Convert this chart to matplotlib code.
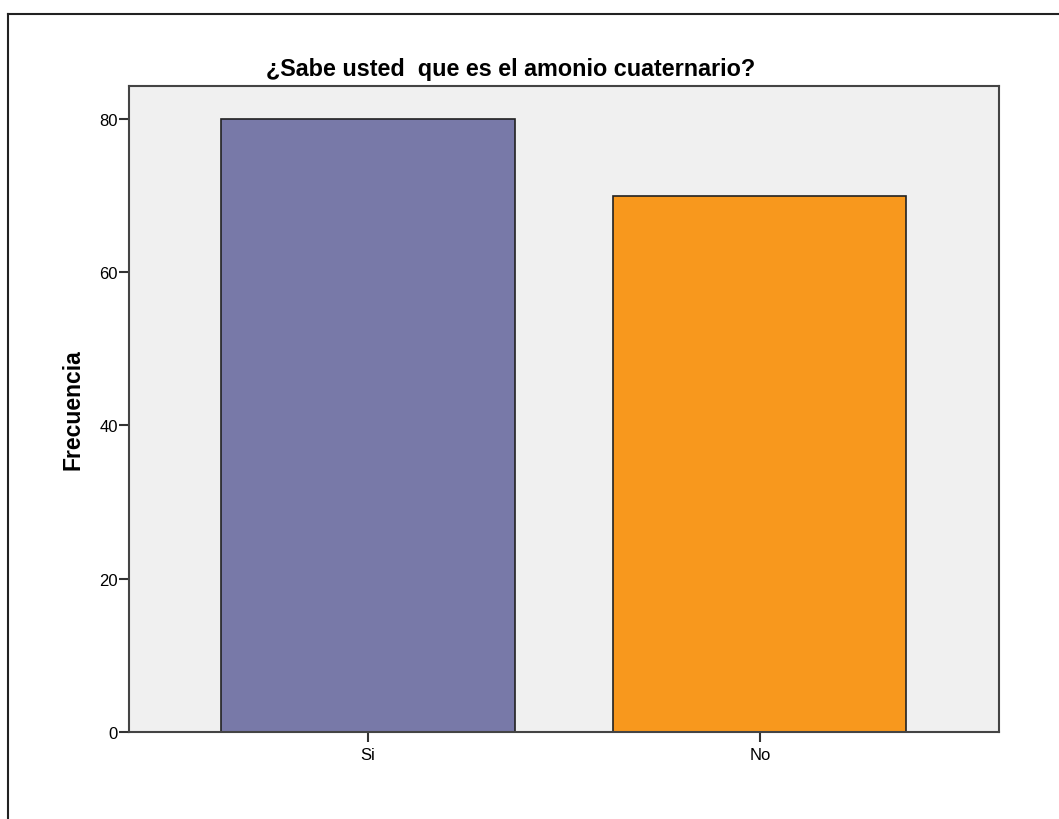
import matplotlib.pyplot as plt
from matplotlib.lines import Line2D

categorias = ['Si', 'No']
frecuencia = [80, 70]
colores = ['#7879a8', '#f8981d']
yticks = [0, 20, 40, 60, 80]

plt.rcParams['font.family'] = ['Liberation Sans', 'DejaVu Sans']

fig = plt.figure(figsize=(10.59, 8.2), dpi=100)
ax = fig.add_axes([0.1218, 0.1061, 0.8215, 0.7878])
ax.set_facecolor('#f0f0f0')

x = list(range(len(categorias)))
ax.bar(x, frecuencia, width=0.748, color=colores, edgecolor='#222222', linewidth=1.2)
ax.set_xlim(-0.61, 1.61)
ax.set_ylim(0, 84.3)
ax.set_xticks(x)
ax.set_xticklabels(categorias)
ax.set_yticks(yticks)
ax.tick_params(axis='both', direction='out', length=7, width=1.5, color='#333333',
               labelsize=12)
ax.tick_params(axis='y', pad=1)
ax.tick_params(axis='x', pad=4)
for s in ax.spines.values():
    s.set_color('#444444')
    s.set_linewidth(1.5)

ax.set_ylabel('Frecuencia', fontsize=16.5, fontweight='bold')
ax.yaxis.set_label_coords(-0.051, 0.5)
fig.text(0.4825, 0.915, '¿Sabe usted  que es el amonio cuaternario?',
         ha='center', va='center', fontsize=16.8, fontweight='bold')

# marco exterior (solo visible arriba e izquierda)
fig.add_artist(Line2D([0.0075, 0.0075], [0.0, 0.982], transform=fig.transFigure,
                      color='#222222', linewidth=1.5))
fig.add_artist(Line2D([0.0075, 1.0], [0.982, 0.982], transform=fig.transFigure,
                      color='#222222', linewidth=1.5))

fig.savefig('out.png', dpi=100)
